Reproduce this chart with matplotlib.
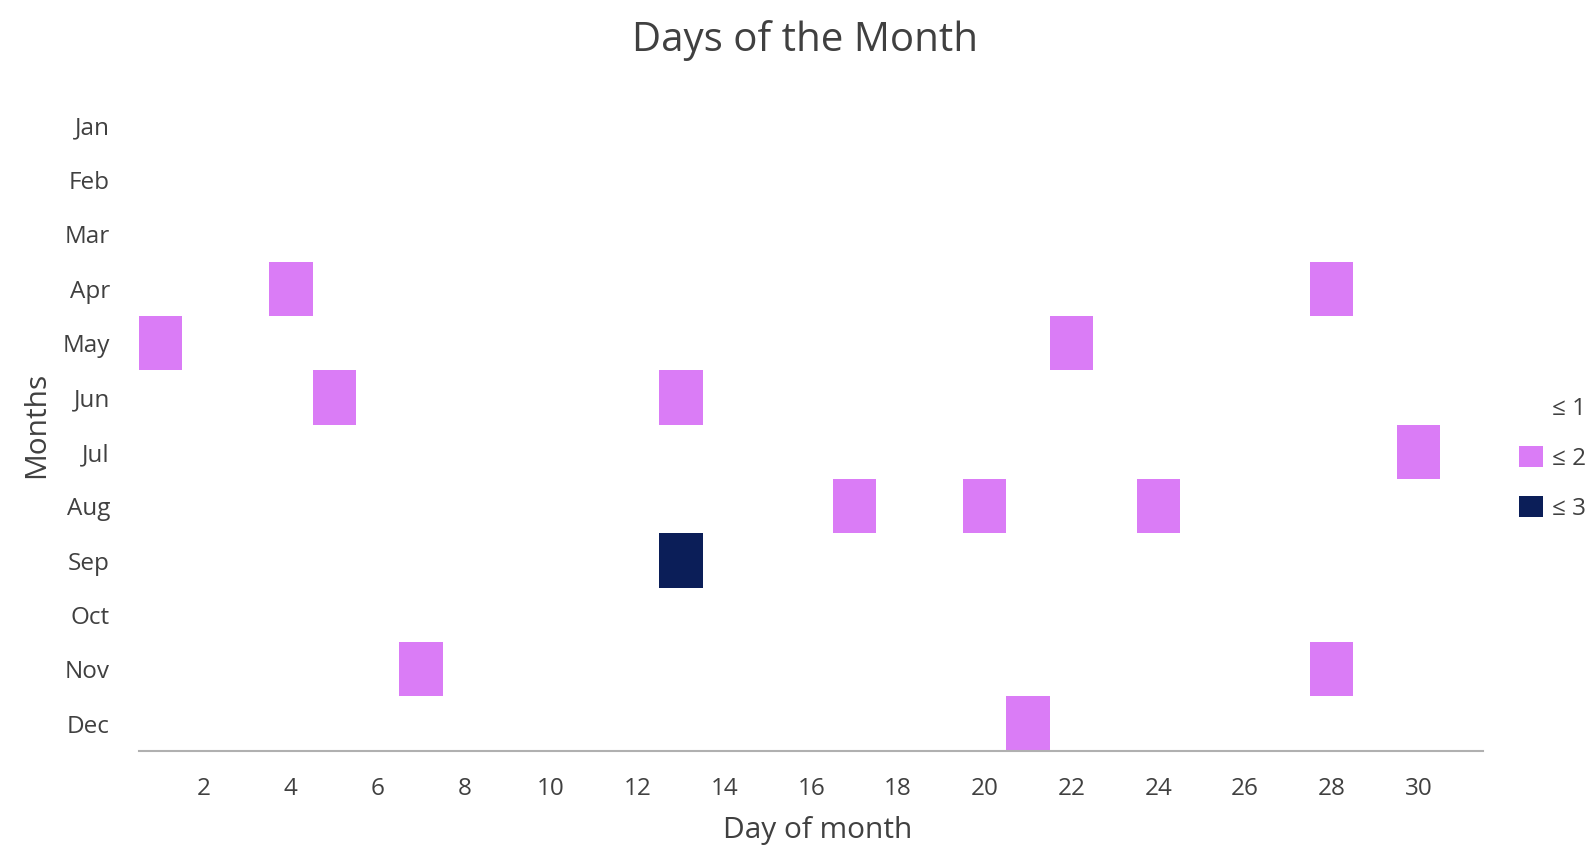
import matplotlib.pyplot as plt
import numpy as np
from matplotlib.colors import ListedColormap, BoundaryNorm
from matplotlib.patches import Patch

plt.rcParams['font.family'] = ['Open Sans', 'DejaVu Sans']

months = ['Jan', 'Feb', 'Mar', 'Apr', 'May', 'Jun', 'Jul', 'Aug', 'Sep', 'Oct', 'Nov', 'Dec']
days = np.arange(1, 32)

# days with entries: month, day of month, count
hit_month = ['Apr', 'Apr', 'May', 'May', 'Jun', 'Jun', 'Jul', 'Aug', 'Aug', 'Aug', 'Sep', 'Nov', 'Nov', 'Dec']
hit_day = [4, 28, 1, 22, 5, 13, 30, 17, 20, 24, 13, 7, 28, 21]
hit_count = [2, 2, 2, 2, 2, 2, 2, 2, 2, 2, 3, 2, 2, 2]

legend_labels = ['≤ 1', '≤ 2', '≤ 3']
colors = ['#ffffff', '#da7cf6', '#0b1e58']
text_col = '#404040'

grid = np.zeros((len(months), len(days)))
for m, d, c in zip(hit_month, hit_day, hit_count):
    grid[months.index(m), d - 1] = c

fig = plt.figure(figsize=(15.91, 8.65), dpi=100)
ax = fig.add_axes([0.0874, 0.132, 0.845, 0.754])

cmap = ListedColormap(colors)
norm = BoundaryNorm([-0.5, 1.5, 2.5, 3.5], cmap.N)
x_edges = np.arange(0.5, 32.5, 1)
y_edges = np.arange(-0.5, 12.5, 1)
ax.pcolormesh(x_edges, y_edges, grid, cmap=cmap, norm=norm)

ax.set_xlim(0.5, 31.5)
ax.set_ylim(11.5, -0.5)
ax.set_xticks(np.arange(2, 31, 2))
ax.set_yticks(range(len(months)))
ax.set_yticklabels(months)
ax.tick_params(axis='both', length=0, labelsize=17.5, labelcolor=text_col)
ax.tick_params(axis='x', pad=19)
ax.tick_params(axis='y', pad=21)
for s in ['top', 'right', 'left']:
    ax.spines[s].set_visible(False)
ax.spines['bottom'].set_color('#b0b0b0')
ax.spines['bottom'].set_linewidth(1.5)

ax.set_xlabel('Day of month', fontsize=21.5, color=text_col)
ax.xaxis.set_label_coords(0.505, -0.1)
ax.set_ylabel('Months', fontsize=21.5, color=text_col, labelpad=8)
fig.suptitle('Days of the Month', fontsize=29, color=text_col, x=0.506, y=0.977)

handles = [Patch(facecolor=c, edgecolor='none') for c in colors]
fig.legend(handles, legend_labels, loc='center left', bbox_to_anchor=(0.941, 0.47),
           frameon=False, fontsize=17.5, labelcolor=text_col,
           handlelength=1.0, handleheight=0.95, handletextpad=0.35, labelspacing=1.05)

fig.savefig('out.png', dpi=100)
